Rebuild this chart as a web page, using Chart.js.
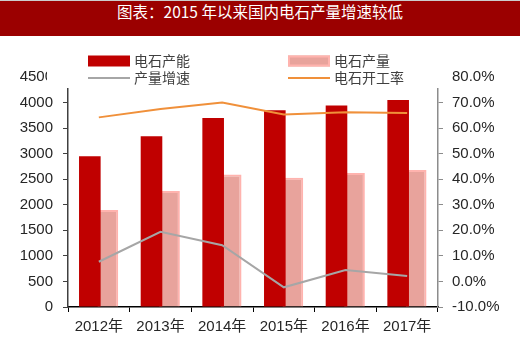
<!DOCTYPE html>
<html>
<head>
<meta charset="utf-8">
<script src="https://cdn.jsdelivr.net/npm/chart.js@4.4.1/dist/chart.umd.min.js"></script>
<style>
  html, body { margin: 0; padding: 0; background: #fff; }
  #wrap { width: 520px; height: 342px; position: relative; }
  #title {
    height: 36px; line-height: 36px; background: #9b0000; color: #fff;
    text-align: center; font: 15.5px "Noto Sans CJK SC", sans-serif;
    box-shadow: inset 0 1px 0 #ccc;
  }
  #box { width: 520px; height: 306px; }
</style>
</head>
<body>
<div id="wrap">
  <div id="title">图表：2015 年以来国内电石产量增速较低</div>
  <div id="box"><canvas id="myChart"></canvas></div>
</div>
<script>
var years = ['2012年', '2013年', '2014年', '2015年', '2016年', '2017年'];
var capacity = [2950, 3340, 3700, 3850, 3940, 4050];   // 电石产能
var output = [1900, 2270, 2590, 2530, 2620, 2680];     // 电石产量
var growth = [7.7, 19.4, 14.2, -2.3, 4.5, 2.1];        // 产量增速 %
var rate = [64.2, 67.5, 70.0, 65.3, 66.2, 65.9];       // 电石开工率 %

var tickFont = { family: '"Liberation Sans", "Noto Sans CJK SC", sans-serif', size: 15 };

// legend drawn over the top of the plot, 2 x 2 grid
var legendSlots = [[88, 25], [288, 25], [88, 42], [288, 42]];
var legendPlugin = {
  id: 'gridLegend',
  afterDatasetsDraw: function (chart) {
    var ctx = chart.ctx;
    ctx.save();
    ctx.fillStyle = '#fff';
    ctx.fillRect(47, 6, 397, 46);
    chart.data.datasets.forEach(function (ds, i) {
      var p = legendSlots[i];
      if (ds.type === 'line') {
        ctx.strokeStyle = ds.borderColor;
        ctx.lineWidth = 2;
        ctx.beginPath();
        ctx.moveTo(p[0], p[1]);
        ctx.lineTo(p[0] + 42, p[1]);
        ctx.stroke();
      } else {
        ctx.fillStyle = ds.backgroundColor;
        ctx.fillRect(p[0], p[1] - 5.5, 42, 11);
        if (ds.borderWidth) {
          ctx.strokeStyle = ds.borderColor;
          ctx.lineWidth = 2;
          ctx.strokeRect(p[0] + 1, p[1] - 4.5, 40, 9);
        }
      }
      ctx.fillStyle = '#404040';
      ctx.font = '14px "Noto Sans CJK SC", sans-serif';
      ctx.textBaseline = 'middle';
      ctx.fillText(ds.label, p[0] + 46, p[1]);
    });
    ctx.restore();
  }
};

var ctx = document.getElementById('myChart').getContext('2d');
var myChart = new Chart(ctx, {
  data: {
    labels: years,
    datasets: [
      { type: 'bar', label: '电石产能', data: capacity, backgroundColor: '#c00000',
        yAxisID: 'y', order: 1, categoryPercentage: 0.584, barPercentage: 1.2 },
      { type: 'bar', label: '电石产量', data: output, backgroundColor: '#e8a39c',
        borderColor: '#ffb3ae', borderWidth: 2,
        yAxisID: 'y', order: 2, categoryPercentage: 0.584, barPercentage: 1.15 },
      { type: 'line', label: '产量增速', data: growth, borderColor: '#a6a6a6', borderWidth: 2,
        pointRadius: 0, tension: 0, yAxisID: 'y1', order: 0 },
      { type: 'line', label: '电石开工率', data: rate, borderColor: '#f0903a', borderWidth: 2,
        pointRadius: 0, tension: 0, yAxisID: 'y1', order: 0 }
    ]
  },
  options: {
    responsive: true,
    maintainAspectRatio: false,
    animation: false,
    layout: { padding: { top: 41, left: 0, right: 0, bottom: 0 } },
    plugins: { legend: { display: false }, tooltip: { enabled: false } },
    scales: {
      x: {
        type: 'category', offset: true,
        grid: { display: true, drawOnChartArea: false, offset: true, tickLength: 5, tickColor: '#000' },
        border: { color: '#000', width: 1.5 },
        ticks: { color: '#262626', font: tickFont, padding: 6, maxRotation: 0 },
        afterFit: function (s) { s.height = 35; }
      },
      y: {
        position: 'left', min: 0, max: 4500,
        grid: { drawOnChartArea: false, tickLength: 5, tickColor: '#404040' },
        border: { color: '#404040', width: 1.5 },
        ticks: { stepSize: 500, color: '#262626', font: tickFont, padding: 10,
          callback: function (v) { return String(v); } },
        afterFit: function (s) { s.width = 68; }
      },
      y1: {
        position: 'right', min: -10, max: 80,
        grid: { drawOnChartArea: false, tickLength: 5, tickColor: '#8c8c8c' },
        border: { color: '#8c8c8c', width: 1.5 },
        ticks: { stepSize: 10, color: '#262626', font: tickFont, padding: 9,
          callback: function (v) { return v.toFixed(1) + '%'; } },
        afterFit: function (s) { s.width = 82; }
      }
    }
  },
  plugins: [legendPlugin]
});
</script>
</body>
</html>
